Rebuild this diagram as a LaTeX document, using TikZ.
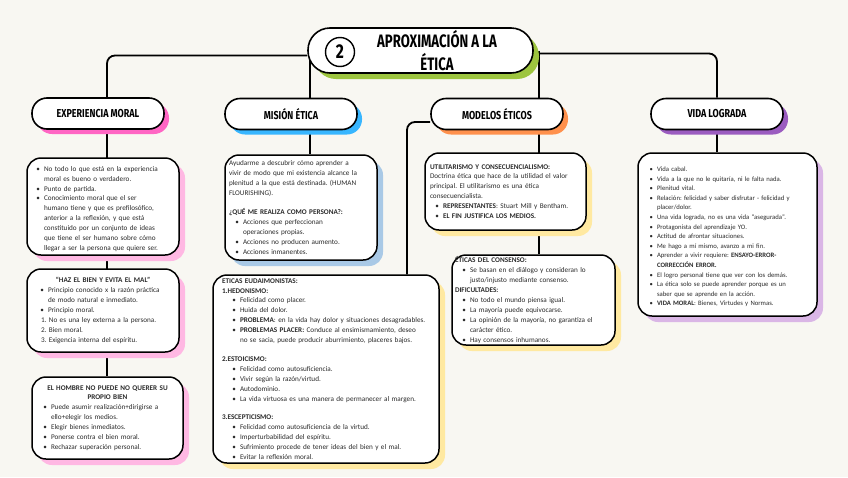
\documentclass[tikz,border=0pt]{standalone}
\usepackage{fontspec}
\setmainfont{Carlito}
\newfontfamily\headfont[FakeStretch=0.78]{Fira Sans}
\newfontfamily\titlefont[FakeStretch=0.73]{Fira Sans}
\usepackage{enumitem}
\setlist[itemize]{nosep,label=\textbullet,labelsep=4pt,leftmargin=12pt}
\usetikzlibrary{shadows,backgrounds}
\frenchspacing

\definecolor{paper}{HTML}{F8F7F2}
\definecolor{ink}{HTML}{2B2B2B}
\definecolor{greenT}{HTML}{9DC53F}
\definecolor{pinkH}{HTML}{FF66C4}
\definecolor{pinkL}{HTML}{FFB8E3}
\definecolor{blueH}{HTML}{38B6FF}
\definecolor{blueL}{HTML}{A9C9E6}
\definecolor{orangeH}{HTML}{FF914D}
\definecolor{yellowL}{HTML}{FFE9A1}
\definecolor{purpleH}{HTML}{9B5CC0}
\definecolor{purpleL}{HTML}{DAB6E6}

\newcommand\bodysize{\fontsize{7.2}{9.9}\selectfont}

\begin{document}
\begin{tikzpicture}[x=1pt, y=-1pt,
    link/.style={line width=1.8pt, rounded corners=8pt},
    titlebox/.style={draw, line width=1.6pt, fill=white, rounded corners=22pt,
        minimum width=225pt, minimum height=45pt,
        drop shadow={fill=greenT, opacity=1, shadow xshift=6pt, shadow yshift=-6pt}},
    head/.style={draw, line width=1.6pt, fill=white, rounded corners=15pt,
        minimum width=132pt, minimum height=31pt,
        font=\headfont\bfseries\fontsize{11.5}{12}\selectfont,
        drop shadow={fill=#1, opacity=1, shadow xshift=5pt, shadow yshift=-5pt}},
    card/.style={draw, line width=1.5pt, fill=white, rounded corners=14pt,
        align=left, inner sep=0pt, text=ink, font=\bodysize,
        drop shadow={fill=#1, opacity=1, shadow xshift=6pt, shadow yshift=-6pt}},
]
\useasboundingbox (0,0) rectangle (848,477);

% Title
\node[titlebox] (title) at (420.5,50.5) {};
\node[circle, draw, line width=1.4pt, minimum size=29pt, inner sep=0pt,
    font=\headfont\bfseries\fontsize{20}{20}\selectfont] (num) at (340,52) {2};
\node[font=\titlefont\bfseries\fontsize{18}{23}\selectfont, align=center] (ttext) at (437,51) {APROXIMACIÓN A LA\\ÉTICA};

% Four headers
\node[head=pinkH] (hexp) at (98,113.5) {EXPERIENCIA MORAL};
\node[head=blueH] (hmis) at (291,114) {MISIÓN ÉTICA};
\node[head=orangeH] (hmod) at (497,114) {MODELOS ÉTICOS};
\node[head=purpleH] (hvid) at (717,114) {VIDA LOGRADA};

% Experiencia moral
\node[card=pinkL, minimum width=152pt, minimum height=97pt, text width=138pt] (e1) at (103,206.5) {%
\begin{itemize}[leftmargin=10pt]
\item No todo lo que está en la experiencia\newline moral es bueno o verdadero.
\item Punto de partida.
\item Conocimiento moral que el ser\newline humano tiene y que es prefilosófico,\newline anterior a la reflexión, y que está\newline constituido por un conjunto de ideas\newline que tiene el ser humano sobre cómo\newline llegar a ser la persona que quiere ser.
\end{itemize}};
\node[card=pinkL, minimum width=152pt, minimum height=83pt, text width=138pt] (e2) at (103,310.5) {%
{\centering\textbf{“HAZ EL BIEN Y EVITA EL MAL”}\par}
\begin{itemize}[leftmargin=14pt]
\item Principio conocido x la razón práctica\newline de modo natural e inmediato.
\item Principio moral.
\end{itemize}
\hspace*{7pt}1. No es una ley externa a la persona.\par
\hspace*{7pt}2. Bien moral.\par
\hspace*{7pt}3. Exigencia interna del espíritu.};
\node[card=pinkL, minimum width=151pt, minimum height=82pt, text width=137pt] (e3) at (107.5,418) {%
{\centering\textbf{EL HOMBRE NO PUEDE NO QUERER SU\\PROPIO BIEN}\par}
\begin{itemize}[leftmargin=12pt]
\item Puede asumir realización+dirigirse a\newline ello+elegir los medios.
\item Elegir bienes inmediatos.
\item Ponerse contra el bien moral.
\item Rechazar superación personal.
\end{itemize}};

% Mision etica
\node[card=blueL, minimum width=152pt, minimum height=105pt, text width=144pt] (m1) at (301,207.5) {%
Ayudarme a descubrir cómo aprender a\newline vivir de modo que mi existencia alcance la\newline plenitud a la que está destinada. (HUMAN\newline FLOURISHING).\par
\vspace{9pt}
\textbf{¿QUÉ ME REALIZA COMO PERSONA?:}
\begin{itemize}[leftmargin=14pt]
\item Acciones que perfeccionan\newline operaciones propias.
\item Acciones no producen aumento.
\item Acciones inmanentes.
\end{itemize}};
\node[card=yellowL, minimum width=226pt, minimum height=188pt, text width=208pt] (m2) at (326,369) {%
\textbf{ETICAS EUDAIMONISTAS:}\par
\textbf{1.HEDONISMO:}
\begin{itemize}[leftmargin=18pt]
\item Felicidad como placer.
\item Huida del dolor.
\item \textbf{PROBLEMA}: en la vida hay dolor y situaciones desagradables.
\item \textbf{PROBLEMAS PLACER:} Conduce al ensimismamiento, deseo\newline no se sacia, puede producir aburrimiento, placeres bajos.
\end{itemize}
\vspace{9pt}
\textbf{2.ESTOICISMO:}
\begin{itemize}[leftmargin=18pt]
\item Felicidad como autosuficiencia.
\item Vivir según la razón/virtud.
\item Autodominio.
\item La vida virtuosa es una manera de permanecer al margen.
\end{itemize}
\vspace{9pt}
\textbf{3.ESCEPTICISMO:}
\begin{itemize}[leftmargin=18pt]
\item Felicidad como autosuficiencia de la virtud.
\item Imperturbabilidad del espíritu.
\item Sufrimiento procede de tener ideas del bien y el mal.
\item Evitar la reflexión moral.
\end{itemize}};

% Modelos eticos
\node[card=yellowL, minimum width=161pt, minimum height=77pt, text width=151pt] (c1) at (505.5,191.5) {%
\textbf{UTILITARISMO Y CONSECUENCIALISMO:}\par
Doctrina ética que hace de la utilidad el valor\newline principal. El utilitarismo es una ética\newline consecuencialista.
\begin{itemize}[leftmargin=13pt]
\item \textbf{REPRESENTANTES}: Stuart Mill y Bentham.
\item \textbf{EL FIN JUSTIFICA LOS MEDIOS.}
\end{itemize}};
\node[card=yellowL, minimum width=163pt, minimum height=90pt, text width=157pt] (c2) at (533.5,300) {%
\textbf{ÉTICAS DEL CONSENSO:}
\begin{itemize}[leftmargin=15pt]
\item Se basan en el diálogo y consideran lo\newline justo/injusto mediante consenso.
\end{itemize}
\textbf{DIFICULTADES:}
\begin{itemize}[leftmargin=15pt]
\item No todo el mundo piensa igual.
\item La mayoría puede equivocarse.
\item La opinión de la mayoría, no garantiza el\newline carácter ético.
\item Hay consensos inhumanos.
\end{itemize}};

% Vida lograda
\node[card=purpleL, minimum width=179pt, minimum height=163pt, text width=165pt,
    font=\fontsize{6.7}{9.6}\selectfont] (v1) at (727.5,234.5) {%
\begin{itemize}[leftmargin=12pt]
\item Vida cabal.
\item Vida a la que no le quitaría, ni le falta nada.
\item Plenitud vital.
\item Relación: felicidad y saber disfrutar - felicidad y\newline placer/dolor.
\item Una vida lograda, no es una vida “asegurada”.
\item Protagonista del aprendizaje YO.
\item Actitud de afrontar situaciones.
\item Me hago a mí mismo, avanzo a mi fin.
\item Aprender a vivir requiere: \textbf{ENSAYO-ERROR-\newline CORRECCIÓN ERROR.}
\item El logro personal tiene que ver con los demás.
\item La ética solo se puede aprender porque es un\newline saber que se aprende en la acción.
\item \textbf{VIDA MORAL}: Bienes, Virtudes y Normas.
\end{itemize}};

% Connectors (behind everything)
\coordinate (jexp) at ([xshift=9pt]hexp.north);
\coordinate (jmis) at ([xshift=19pt]hmis.north);
\coordinate (jmod) at ([xshift=42pt]hmod.north);
\coordinate (jeud) at ([xshift=81pt]m2.north);
\begin{scope}[on background layer]
\fill[paper] (0,0) rectangle (848,477);
\draw[link] ([yshift=-5pt]title.west) -| (jexp);
\draw[link] (jexp) -- (jexp |- e3.north);
\draw[link] (jmis |- title.center) -- (jmis |- m1.north);
\draw[link] (jmod |- title.center) -- (jmod |- c2.north);
\draw[link] ([yshift=-8pt]hmod.west) -| (jeud);
\draw[link] ([yshift=-3pt]title.east) -| (hvid.north);
\draw[link] (hvid.south) -- (hvid.south |- v1.north);
\end{scope}
\end{tikzpicture}
\end{document}
